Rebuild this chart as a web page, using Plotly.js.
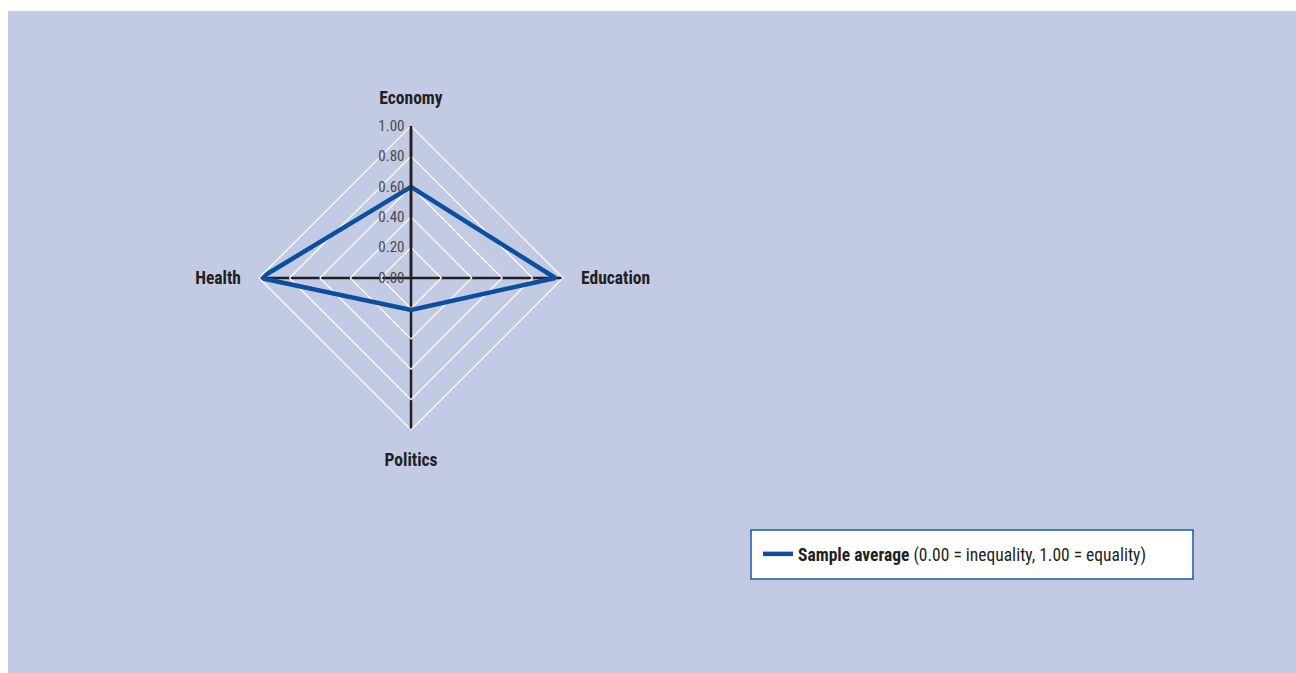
<!DOCTYPE html>
<html><head><meta charset="utf-8">
<script src="https://cdn.plot.ly/plotly-3.0.1.min.js"></script>
<style>body{margin:0;padding:0;background:#fff}#c{width:1296px;height:673px}</style>
</head><body><div id="c"></div>
<script>
const categories = ["Economy", "Education", "Politics", "Health"];
const sampleAverage = [0.60, 0.95, 0.21, 0.99];
const seriesName = "<b>Sample average</b> (0.00 = inequality, 1.00 = equality)";
const radialTicks = [0, 0.2, 0.4, 0.6, 0.8, 1.0];
const radialTickLabels = ["0.00", "0.20", "0.40", "0.60", "0.80", "1.00"];

const W = 1296, H = 673;
const cx = 411, cy = 278, R = 152;
const FONT = "'Liberation Sans Narrow', 'Arial Narrow', 'Roboto Condensed', 'Liberation Sans', sans-serif";

const trace = {
  type: 'scatterpolar',
  r: sampleAverage.concat([sampleAverage[0]]),
  theta: categories.concat([categories[0]]),
  mode: 'lines',
  name: seriesName,
  line: {color: '#0b4f9e', width: 4.5},
  hoverinfo: 'skip'
};

const layout = {
  width: W, height: H,
  margin: {l: 0, r: 0, t: 0, b: 0},
  paper_bgcolor: '#ffffff',
  font: {family: FONT, color: '#231f20'},
  showlegend: true,
  shapes: [
    {type: 'rect', xref: 'paper', yref: 'paper', layer: 'below',
     x0: 8 / W, x1: 1, y0: 0, y1: 1 - 11 / H,
     fillcolor: '#c3cae4', line: {width: 0}},
    {type: 'rect', xref: 'paper', yref: 'paper', layer: 'below',
     x0: 751 / W, x1: 1193 / W, y0: 1 - 579 / H, y1: 1 - 530 / H,
     fillcolor: '#ffffff', line: {color: '#1a5aa8', width: 1.5}}
  ],
  legend: {
    x: 758 / W, y: 1 - 554 / H, xanchor: 'left', yanchor: 'middle',
    bgcolor: 'rgba(0,0,0,0)', borderwidth: 0,
    font: {family: FONT, size: 17.5, color: '#231f20'},
    itemwidth: 30
  },
  polar: {
    domain: {x: [(cx - R) / W, (cx + R) / W], y: [1 - (cy + R) / H, 1 - (cy - R) / H]},
    bgcolor: 'rgba(0,0,0,0)',
    gridshape: 'linear',
    radialaxis: {
      range: [0, 1], angle: 90, tickangle: 90,
      tickvals: radialTicks, ticktext: radialTickLabels,
      side: 'counterclockwise',
      showline: true, linecolor: '#231f20', linewidth: 2.5,
      gridcolor: '#ffffff', gridwidth: 1.2,
      ticks: '', tickfont: {family: FONT, size: 15, color: '#4a4a4a'}
    },
    angularaxis: {
      type: 'category', categoryarray: categories,
      rotation: 90, direction: 'clockwise',
      showline: true, linecolor: '#ffffff', linewidth: 1.2,
      gridcolor: '#231f20', gridwidth: 2.5,
      ticks: 'outside', ticklen: 14, tickcolor: 'rgba(0,0,0,0)',
      tickfont: {family: FONT, size: 17.5, color: '#231f20', weight: 'bold'}
    }
  }
};

Plotly.newPlot('c', [trace], layout, {displayModeBar: false, staticPlot: true});
</script></body></html>
